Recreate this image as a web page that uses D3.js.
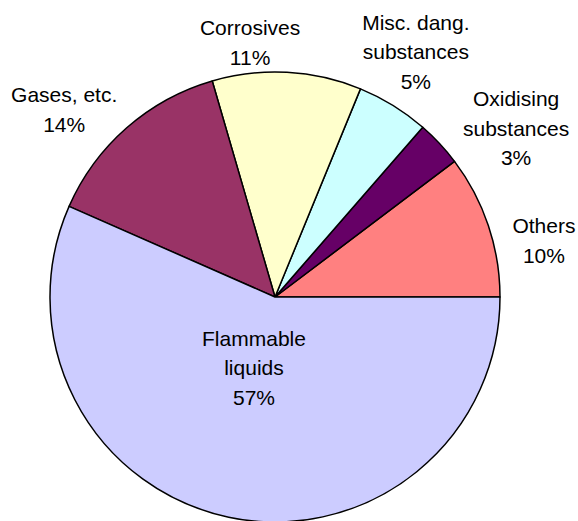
<!DOCTYPE html>
<html>
<head>
<meta charset="utf-8">
<script src="https://cdn.jsdelivr.net/npm/d3@7/dist/d3.min.js"></script>
<style>
  html, body { margin: 0; padding: 0; background: #fff; }
  svg { display: block; }
  text { font-family: "Liberation Sans", Arial, sans-serif; font-size: 21px; fill: #000; }
</style>
</head>
<body>
<svg id="chart" width="578" height="521"></svg>
<script>
// ---- data ----
const categories = ["Others", "Oxidising substances", "Misc. dang. substances", "Corrosives", "Gases, etc.", "Flammable liquids"];
const labelLines = [["Others"], ["Oxidising", "substances"], ["Misc. dang.", "substances"], ["Corrosives"], ["Gases, etc."], ["Flammable", "liquids"]];
const shares = [10.3, 3.3, 5.2, 10.7, 13.9, 56.6];
const colors = ["#FF8080", "#660066", "#CCFFFF", "#FFFFCC", "#993366", "#CCCCFF"];

// ---- layout ----
const W = 578, H = 521;
const cx = 275, cy = 297, R = 225;
const lineH = 29.5;
// label block centres in polar form: [angle in degrees ccw from 3 o'clock, radius as fraction of R]
const labelPolar = [[11.8, 1.221], [35.0, 1.308], [60.1, 1.256], [95.6, 1.136], [138.4, 1.253], [253.5, 0.329]];

const svg = d3.select("#chart");
const g = svg.append("g").attr("transform", `translate(${cx},${cy})`);

const pie = d3.pie().sort(null).value(d => d)
  .startAngle(Math.PI / 2).endAngle(Math.PI / 2 - 2 * Math.PI);
const arcs = pie(shares);
const arc = d3.arc().innerRadius(0).outerRadius(R);

g.selectAll("path.slice").data(arcs).enter().append("path")
  .attr("class", "slice")
  .attr("d", arc)
  .attr("fill", (d, i) => colors[i])
  .attr("stroke", "#000")
  .attr("stroke-width", 1.5)
  .attr("stroke-linejoin", "round");

const total = d3.sum(shares);
const rScale = d3.scaleLinear().domain([0, 1]).range([0, R]);

arcs.forEach((d, i) => {
  const [deg, rf] = labelPolar[i];
  const a = deg * Math.PI / 180;
  const x = rScale(rf) * Math.cos(a);
  const y = -rScale(rf) * Math.sin(a);
  const lines = labelLines[i].concat([Math.round(shares[i] / total * 100) + "%"]);
  const t = g.append("text").attr("text-anchor", "middle");
  lines.forEach((ln, j) => {
    t.append("tspan")
      .attr("x", x)
      .attr("y", y + (j - (lines.length - 1) / 2) * lineH)
      .attr("dy", "0.35em")
      .text(ln);
  });
});
</script>
</body>
</html>
